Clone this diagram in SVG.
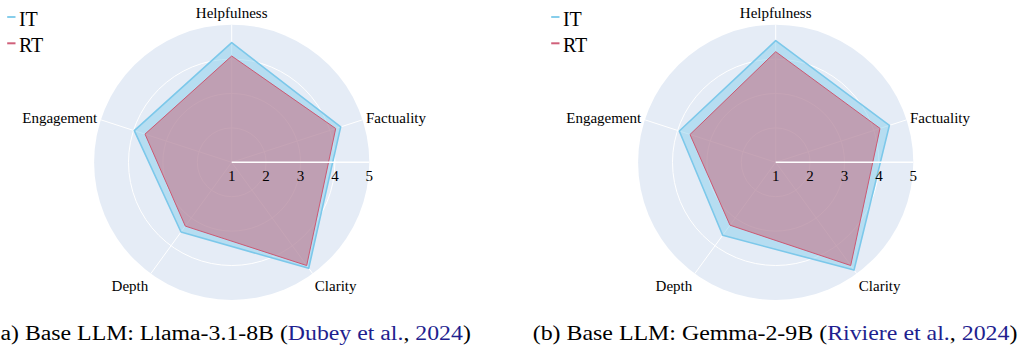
<svg xmlns="http://www.w3.org/2000/svg" xmlns:xlink="http://www.w3.org/1999/xlink" width="1021" height="350" viewBox="0 0 1021 350" font-family="'Liberation Serif', 'Times New Roman', serif">
<style>
  text { font-family: "Liberation Serif", "Times New Roman", serif; fill: #000; }
  .lbl { font-size: 15px; }
  .tick { font-size: 15px; text-anchor: middle; }
  .leg { font-size: 20px; font-family: "Liberation Serif", serif; }
  .cap { font-size: 20px; font-family: "Liberation Serif", serif; }
  .cite { fill: #1f1f8f; }
  .grid { fill: none; stroke: #ffffff; stroke-width: 1; }
  .it { fill: rgba(135,206,235,0.5); stroke: #7cc8ea; stroke-width: 1.6; stroke-linejoin: round; }
  .rt { fill: rgba(200,98,118,0.5); stroke: #cc5872; stroke-width: 1; stroke-linejoin: round; }
  .raxis { stroke: #ffffff; stroke-width: 1.5; }
  .legit { stroke: #87ceeb; stroke-width: 2; }
  .legrt { stroke: #d0607a; stroke-width: 2; }
</style>
<defs>
  <g id="polar">
    <circle cx="0" cy="0" r="137.6" fill="#e5ecf6"/>
    <circle class="grid" cx="0" cy="0" r="34.4"/>
    <circle class="grid" cx="0" cy="0" r="68.8"/>
    <circle class="grid" cx="0" cy="0" r="103.2"/>
    <line class="grid" x1="0" y1="0" x2="0" y2="-137.6"/>
    <line class="grid" x1="0" y1="0" x2="130.9" y2="-42.5"/>
    <line class="grid" x1="0" y1="0" x2="80.9" y2="111.3"/>
    <line class="grid" x1="0" y1="0" x2="-80.9" y2="111.3"/>
    <line class="grid" x1="0" y1="0" x2="-130.9" y2="-42.5"/>
  </g>
  <g id="axis">
    <line class="raxis" x1="0" y1="0" x2="137.6" y2="0"/>
    <text class="tick" x="0" y="18.4">1</text>
    <text class="tick" x="34.4" y="18.4">2</text>
    <text class="tick" x="68.8" y="18.4">3</text>
    <text class="tick" x="103.2" y="18.4">4</text>
    <text class="tick" x="137.6" y="18.4">5</text>
    <text class="lbl" x="0" y="-144.8" text-anchor="middle">Helpfulness</text>
    <text class="lbl" x="134.3" y="-39.3">Factuality</text>
    <text class="lbl" x="104" y="129.2" text-anchor="middle">Clarity</text>
    <text class="lbl" x="-101.8" y="129.2" text-anchor="middle">Depth</text>
    <text class="lbl" x="-134.5" y="-39.3" text-anchor="end">Engagement</text>
  </g>
  <g id="legend">
    <line class="legit" x1="-224.5" y1="-145.3" x2="-216.2" y2="-145.3"/>
    <text class="leg" x="-212.8" y="-136.8">IT</text>
    <line class="legrt" x1="-224.5" y1="-119" x2="-216.2" y2="-119"/>
    <text class="leg" x="-212.8" y="-110">RT</text>
  </g>
</defs>

<g id="chart-a" transform="translate(231.7,162.3)">
  <use xlink:href="#polar"/>
  <g id="series-a">
    <polygon id="a-IT" class="it" points="0,-119.6 109.0,-35.4 77.0,106.0 -50.7,69.7 -97.4,-31.6"/>
    <polygon id="a-RT" class="rt" points="0,-106.3 104.0,-33.8 75.0,103.2 -46.4,63.8 -86.7,-28.2"/>
  </g>
  <use xlink:href="#axis"/>
  <use xlink:href="#legend"/>
</g>

<g id="chart-b" transform="translate(775.7,162.3)">
  <use xlink:href="#polar"/>
  <g id="series-b">
    <polygon id="b-IT" class="it" points="0,-121.6 113.7,-36.9 78.3,107.8 -53.0,73.0 -96.4,-31.3"/>
    <polygon id="b-RT" class="rt" points="0,-110.6 104.3,-33.9 75.0,103.2 -45.7,62.9 -85.7,-27.8"/>
  </g>
  <use xlink:href="#axis"/>
  <use xlink:href="#legend"/>
</g>

<g id="captions">
  <text class="cap" font-family="'Liberation Serif', serif" transform="translate(0.5,339.5) scale(1.19,1)">a) Base LLM: Llama-3.1-8B (<tspan class="cite">Dubey et al.</tspan>, <tspan class="cite">2024</tspan>)</text>
  <text class="cap" font-family="'Liberation Serif', serif" transform="translate(532.7,339.5) scale(1.195,1)">(b) Base LLM: Gemma-2-9B (<tspan class="cite">Riviere et al.</tspan>, <tspan class="cite">2024</tspan>)</text>
</g>
</svg>
